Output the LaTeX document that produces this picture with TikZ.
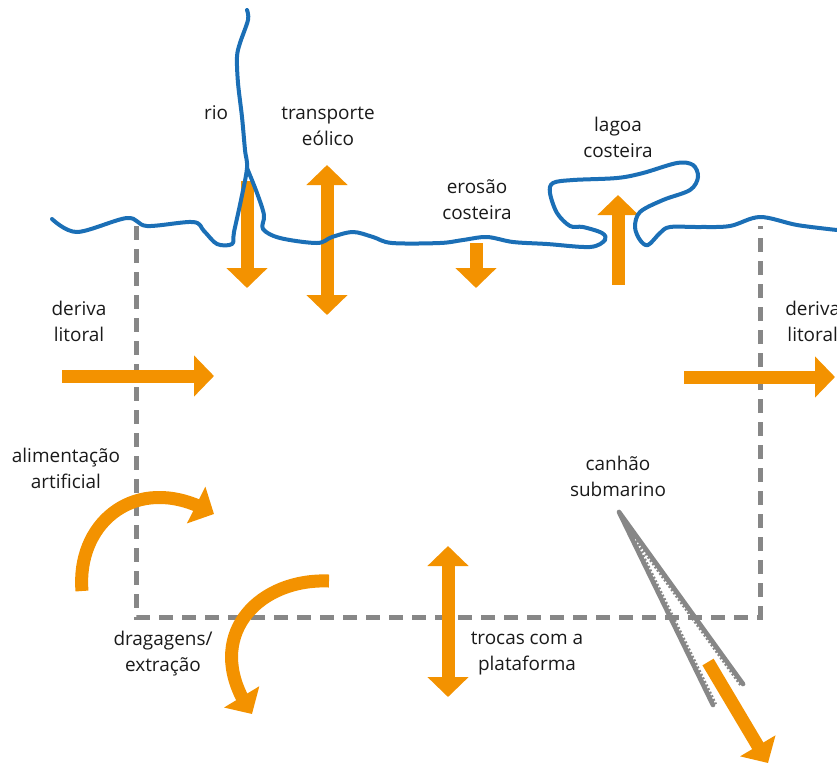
\documentclass[tikz,border=0pt]{standalone}
\usepackage{fontspec}
\setmainfont{Open Sans}
\usetikzlibrary{arrows.meta,bending}
\definecolor{orng}{HTML}{F39200}
\definecolor{coast}{HTML}{1B6FB6}
\definecolor{grayl}{HTML}{878787}
\definecolor{txt}{HTML}{1A1A1A}
\begin{document}
\begin{tikzpicture}[x=0.75pt,y=-0.75pt,
  lbl/.style={align=center,inner sep=0pt,text=txt,font=\fontsize{14.2pt}{19.5pt}\selectfont},
  boxline/.style={draw=grayl,line width=3.75pt,dash pattern=on 10.5pt off 6.75pt},
  canyonline/.style={draw=grayl,line width=3.5pt,line cap=round,line join=round},
  canyonfringe/.style={draw=grayl,line width=1.6pt,dash pattern=on 1.5pt off 1.5pt},
  oarrow/.style={draw=orng,line width=9.75pt,-{Triangle[width=30pt,length=15pt]}},
  darrow/.style={draw=orng,line width=9.75pt,{Triangle[width=30pt,length=15pt]}-{Triangle[width=30pt,length=15pt]}},
  coastline/.style={draw=coast,line width=3pt,line cap=round,line join=round}]
\useasboundingbox (0,0) rectangle (837,765);

% named coordinates
\coordinate (bxTL) at (136,226);
\coordinate (bxBL) at (136,617);
\coordinate (bxBR) at (760,617);
\coordinate (bxTR) at (760,226);
\coordinate (cnApex) at (619,512);
\coordinate (cnL) at (713,705);
\coordinate (cnR) at (743,684);
\coordinate (cnLi1) at (631,530);
\coordinate (cnLi2) at (716,704);
\coordinate (cnRi1) at (629,531);
\coordinate (cnRi2) at (740.5,685.5);

% sediment budget cell (dashed)
\draw[boxline] (bxTL) -- (bxBL) -- (bxBR) -- (bxTR);

% submarine canyon
\draw[canyonline] (cnL) -- (cnApex) -- (cnR);
\draw[canyonfringe] (cnLi1) -- (cnLi2);
\draw[canyonfringe] (cnRi1) -- (cnRi2);

% arrow endpoints
\coordinate (rioA) at (247,181);   \coordinate (rioB) at (247,288);
\coordinate (eolA) at (327,165);   \coordinate (eolB) at (327,315);
\coordinate (eroA) at (476,243);   \coordinate (eroB) at (476,288);
\coordinate (lagA) at (618,285);   \coordinate (lagB) at (618,195);
\coordinate (dlA) at (62,376);     \coordinate (dlB) at (214,376);
\coordinate (drA) at (684,377);    \coordinate (drB) at (835,377);
\coordinate (trA) at (448,546);    \coordinate (trB) at (448,697);
\coordinate (caA) at (708,662);    \coordinate (caB) at (768,763);
\coordinate (alA) at (82,591);     \coordinate (alB) at (214,514);
\coordinate (dgA) at (329,581);    \coordinate (dgB) at (252,714);

% orange arrows
\draw[oarrow] (rioA) -- (rioB);
\draw[darrow] (eolA) -- (eolB);
\draw[oarrow] (eroA) -- (eroB);
\draw[oarrow] (lagA) -- (lagB);
\draw[oarrow] (dlA) -- (dlB);
\draw[oarrow] (drA) -- (drB);
\draw[darrow] (trA) -- (trB);
\draw[oarrow] (caA) -- (caB);
\draw[oarrow] (alA) .. controls (76,520) and (140,470) .. (alB);
\draw[oarrow] (dgA) .. controls (255,578) and (200,640) .. (dgB);

% coastline and river
\draw[coastline] plot[smooth,tension=0.55] coordinates {
 (52,219) (77,232) (127,218) (147,226) (193,222) (204,231) (217,244) (232,244)
 (234,232) (241,200) (247,168) (245,150) (242,117) (238,83) (237,57) (240,43) (248,20) (247,10)};
\draw[coastline] plot[smooth,tension=0.55] coordinates {
 (247,168) (257,193) (264,215) (263,229) (280,238) (317,243) (332,237) (353,232) (373,237) (392,243)
 (440,243) (463,240) (487,237) (513,242) (547,244) (590,247) (605,240) (602,233) (583,227) (570,226)
 (557,213) (550,193) (553,183) (573,180) (617,178) (643,173) (677,163) (693,165) (698,177) (690,190)
 (663,200) (640,212) (635,227) (640,240) (648,245) (660,233) (670,227) (700,227) (730,226) (760,217)
 (797,225) (837,230)};

% labels
\node[lbl] (rio) at (216,113) {rio};
\node[lbl] (eol) at (328,126) {transporte\\eólico};
\node[lbl] (ero) at (477,200) {erosão\\costeira};
\node[lbl] (lag) at (618,137) {lagoa\\costeira};
\node[lbl] (dl) at (79,321) {deriva\\litoral};
\node[lbl,anchor=west] (dr) at (785,321) {deriva\\litoral};
\node[lbl] (al) at (66,468) {alimentação\\artificial};
\node[lbl] (can) at (618,476) {canhão\\submarino};
\node[lbl] (dg) at (163,654) {dragagens/\\extração};
\node[lbl] (tr) at (527,654) {trocas com a\\plataforma};
\end{tikzpicture}
\end{document}
